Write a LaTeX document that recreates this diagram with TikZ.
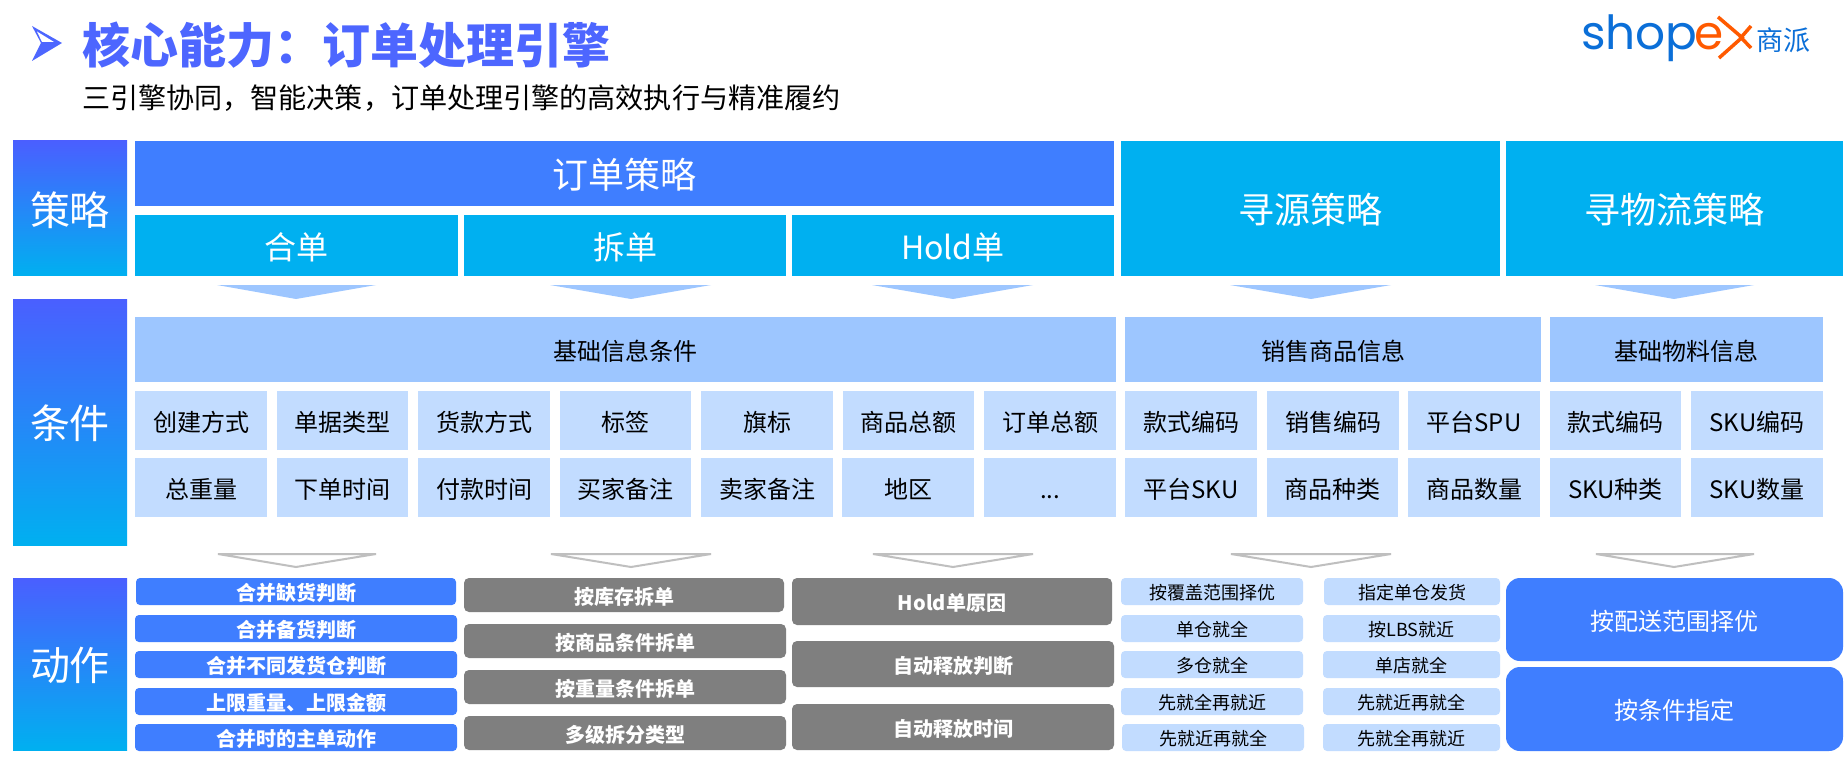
\documentclass[tikz,border=0pt]{standalone}
\usepackage{fontspec}
\setmainfont{Noto Sans CJK SC}
\newfontfamily\logofont{Poppins}
\definecolor{titleblue}{HTML}{4D66FF}
\definecolor{mainblue}{HTML}{3F7EFF}
\definecolor{cyanblue}{HTML}{00B0F0}
\definecolor{gradtop}{HTML}{4A5FFF}
\definecolor{gradmid}{HTML}{3A8FFF}
\definecolor{lightA}{HTML}{9DC6FF}
\definecolor{lightB}{HTML}{C2DCFF}
\definecolor{grayact}{HTML}{7F7F7F}
\definecolor{grayarrow}{HTML}{BFBFBF}
\definecolor{logoblue}{HTML}{0B6FD8}
\definecolor{logoorange}{HTML}{FF5A00}
\newcommand\fs[1]{\fontsize{#1}{#1}\selectfont}
\newcommand\lb[1]{\rule[-0.12em]{0pt}{\dimexpr1em+3pt\relax}#1}
\newcommand\cma{\char"FF0C\relax}
\newcommand\cln{\char"FF1A\relax}
\newcommand\bx[7]{\node[#1,minimum width={(#5-#3)*1pt},minimum height={(#6-#4)*1pt}] (#2) at ({(#3+#5)/2},{(#4+#6)/2}) {\lb{#7}};}
\newcommand\fa[3]{\fill[arrowfill] (#1,285) -- (#2,285) -- (#3,299) -- cycle;}
\newcommand\oa[3]{\draw[arrowline] (#1,554) -- (#2,554) -- (#3,567) -- cycle;}
\tikzset{
  base/.style={inner sep=0pt,outer sep=0pt,align=center},
  gradlabel/.style={base,top color=gradtop,middle color=gradmid,bottom color=cyanblue,text=white,font=\fs{40}},
  bluehd/.style={base,fill=mainblue,text=white,font=\fs{36}},
  cyanhd/.style={base,fill=cyanblue,text=white,font=\fs{36}},
  cyansub/.style={base,fill=cyanblue,text=white,font=\fs{32}},
  condhd/.style={base,fill=lightA,text=black,font=\fs{24}},
  condcell/.style={base,fill=lightB,text=black,font=\fs{24}},
  actblue/.style={base,fill=mainblue,text=white,rounded corners=4pt,font=\fs{20}\bfseries},
  actgray/.style={base,fill=grayact,text=white,rounded corners=5pt,font=\fs{20}\bfseries},
  actlight/.style={base,fill=lightB,text=black,rounded corners=4pt,font=\fs{18}},
  actbig/.style={base,fill=mainblue,text=white,rounded corners=14pt,font=\fs{24}},
  arrowfill/.style={fill=lightA},
  arrowline/.style={draw=grayarrow,line width=2pt,fill=white,line join=miter},
}
\begin{document}
\begin{tikzpicture}[x=1pt,y=-1pt]
\useasboundingbox (0,0) rectangle (1848,762);
\fill[white] (0,0) rectangle (1848,762);
% header
\fill[titleblue] (32,26) -- (62,43) -- (32,61) -- (41,43) -- cycle;
\fill[white] (37,31.5) -- (54,42) -- (42,42) -- cycle;
\node[base,anchor=west,text=titleblue,font=\fs{48}\bfseries] (title) at (82,44) {\lb{核心能力\cln 订单处理引擎}};
\node[base,anchor=west,text=black,font=\fs{28.1}] (subtitle) at (82,96) {\lb{三引擎协同\cma 智能决策\cma 订单处理引擎的高效执行与精准履约}};
% logo
\node[base,anchor=base west,text=logoblue,font=\logofont\fs{47}] (logoshop) at (1581,50) {shop};
\node[base,anchor=base west,text=logoorange,font=\logofont\fs{47}] (logoe) at (1694,50) {e};
\draw[logoorange,line width=3.5pt] (1718,17) -- (1742,37.5) -- (1719,58);
\draw[logoorange,line width=3.5pt] (1751,26) -- (1741,37.5) -- (1751,48);
\node[base,anchor=west,text=logoblue,font=\fs{27}] (logocn) at (1756,38.5) {\lb{商派}};
% left labels
\bx{gradlabel}{lab1}{13}{141}{127}{276}{策略}
\bx{gradlabel}{lab2}{13}{299}{127}{545}{条件}
\bx{gradlabel}{lab3}{13}{578}{127}{750}{动作}
% strategy row
\bx{bluehd}{s0}{135}{141}{1114}{206}{订单策略}
\bx{cyansub}{s1}{135}{215}{458}{276}{合单}
\bx{cyansub}{s2}{464}{215}{786}{276}{拆单}
\bx{cyansub}{s3}{792}{215}{1114}{276}{Hold单}
\bx{cyanhd}{s4}{1121}{141}{1500}{276}{寻源策略}
\bx{cyanhd}{s5}{1506}{141}{1843}{276}{寻物流策略}
% arrows
\fa{217}{376}{296}
\fa{550}{711}{631}
\fa{872}{1033}{953}
\fa{1230}{1391}{1311}
\fa{1595}{1754}{1674}
\oa{218}{376}{296}
\oa{551}{711}{631}
\oa{873}{1033}{953}
\oa{1231}{1391}{1311}
\oa{1596}{1754}{1674}
% condition headers
\bx{condhd}{h1}{135}{317}{1116}{382}{基础信息条件}
\bx{condhd}{h2}{1125}{317}{1541}{382}{销售商品信息}
\bx{condhd}{h3}{1550}{317}{1823}{382}{基础物料信息}
% condition cells row 1
\bx{condcell}{a1}{135}{391}{267}{450}{创建方式}
\bx{condcell}{a2}{277}{391}{408}{450}{单据类型}
\bx{condcell}{a3}{418}{391}{550}{450}{货款方式}
\bx{condcell}{a4}{560}{391}{691}{450}{标签}
\bx{condcell}{a5}{701}{391}{833}{450}{旗标}
\bx{condcell}{a6}{843}{391}{974}{450}{商品总额}
\bx{condcell}{a7}{984}{391}{1116}{450}{订单总额}
\bx{condcell}{a8}{1125}{391}{1257}{450}{款式编码}
\bx{condcell}{a9}{1267}{391}{1399}{450}{销售编码}
\bx{condcell}{a10}{1408}{391}{1540}{450}{平台SPU}
\bx{condcell}{a11}{1550}{391}{1681}{450}{款式编码}
\bx{condcell}{a12}{1691}{391}{1823}{450}{SKU编码}
% condition cells row 2
\bx{condcell}{b1}{135}{458}{267}{517}{总重量}
\bx{condcell}{b2}{277}{458}{408}{517}{下单时间}
\bx{condcell}{b3}{418}{458}{550}{517}{付款时间}
\bx{condcell}{b4}{560}{458}{691}{517}{买家备注}
\bx{condcell}{b5}{701}{458}{833}{517}{卖家备注}
\bx{condcell}{b6}{842}{458}{974}{517}{地区}
\bx{condcell}{b7}{984}{458}{1116}{517}{...}
\bx{condcell}{b8}{1125}{458}{1257}{517}{平台SKU}
\bx{condcell}{b9}{1267}{458}{1398}{517}{商品种类}
\bx{condcell}{b10}{1408}{458}{1540}{517}{商品数量}
\bx{condcell}{b11}{1550}{458}{1681}{517}{SKU种类}
\bx{condcell}{b12}{1691}{458}{1823}{517}{SKU数量}
% actions col A
\bx{actblue}{c1}{136}{578}{456}{605}{合并缺货判断}
\bx{actblue}{c2}{135}{615}{457}{642}{合并备货判断}
\bx{actblue}{c3}{135}{651}{457}{678}{合并不同发货仓判断}
\bx{actblue}{c4}{135}{688}{457}{715}{上限重量、上限金额}
\bx{actblue}{c5}{135}{724}{457}{751}{合并时的主单动作}
% actions col B
\bx{actgray}{d1}{464}{578}{784}{612}{按库存拆单}
\bx{actgray}{d2}{464}{624}{786}{658}{按商品条件拆单}
\bx{actgray}{d3}{464}{670}{786}{704}{按重量条件拆单}
\bx{actgray}{d4}{464}{716}{786}{750}{多级拆分类型}
% actions col C
\bx{actgray}{e1}{792}{578}{1112}{625}{Hold单原因}
\bx{actgray}{e2}{792}{641}{1114}{687}{自动释放判断}
\bx{actgray}{e3}{792}{704}{1114}{750}{自动释放时间}
% actions col D
\bx{actlight}{f1}{1121}{578}{1303}{605}{按覆盖范围择优}
\bx{actlight}{f2}{1121}{615}{1303}{642}{单仓就全}
\bx{actlight}{f3}{1121}{651}{1303}{678}{多仓就全}
\bx{actlight}{f4}{1121}{688}{1303}{715}{先就全再就近}
\bx{actlight}{f5}{1122}{724}{1304}{751}{先就近再就全}
% actions col E
\bx{actlight}{g1}{1324}{578}{1500}{605}{指定单仓发货}
\bx{actlight}{g2}{1323}{615}{1500}{642}{按LBS就近}
\bx{actlight}{g3}{1323}{651}{1500}{678}{单店就全}
\bx{actlight}{g4}{1323}{688}{1500}{715}{先就近再就全}
\bx{actlight}{g5}{1323}{724}{1500}{751}{先就全再就近}
% actions col F
\bx{actbig}{k1}{1506}{578}{1843}{661}{按配送范围择优}
\bx{actbig}{k2}{1506}{667}{1843}{751}{按条件指定}
\end{tikzpicture}
\end{document}
